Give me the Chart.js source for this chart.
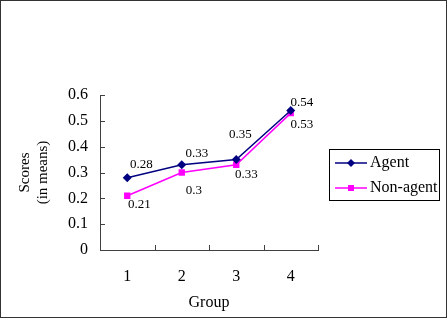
<!DOCTYPE html>
<html>
<head>
<meta charset="utf-8">
<script src="https://cdn.jsdelivr.net/npm/chart.js@4.4.0/dist/chart.umd.min.js"></script>
<style>
  html, body { margin: 0; padding: 0; background: #fff; }
  #wrap { width: 447px; height: 318px; }
</style>
</head>
<body>
<div id="wrap"><canvas id="chart" width="447" height="318"></canvas></div>
<script>
const groups = ["1", "2", "3", "4"];
const agentScores = [0.28, 0.33, 0.35, 0.54];
const nonAgentScores = [0.21, 0.3, 0.33, 0.53];
const yTicks = [0, 0.1, 0.2, 0.3, 0.4, 0.5, 0.6];

const serif = "'Liberation Serif', 'Times New Roman', serif";
const axisColor = "#404040";

// label offsets from the point, per dataset
const labelOffsets = [
  [[14, -13], [15, -11], [4, -25], [11, -8]],
  [[12, 9], [12, 18], [10, 10], [11, 11]]
];

const framePlugin = {
  id: "frame",
  beforeDraw(chart) {
    const ctx = chart.ctx;
    ctx.save();
    ctx.fillStyle = "#fff";
    ctx.fillRect(0, 0, chart.width, chart.height);
    ctx.restore();
  },
  afterDraw(chart) {
    const ctx = chart.ctx;
    ctx.save();
    ctx.strokeStyle = "#333";
    ctx.lineWidth = 1;
    ctx.strokeRect(0.5, 0.5, chart.width - 1, chart.height - 1);
    ctx.restore();
  }
};

const innerTicks = {
  id: "innerTicks",
  afterDraw(chart) {
    const ctx = chart.ctx;
    const x = chart.scales.x, y = chart.scales.y;
    ctx.save();
    ctx.strokeStyle = axisColor;
    ctx.lineWidth = 1;
    ctx.beginPath();
    yTicks.forEach(v => {
      const py = Math.round(y.getPixelForValue(v)) + 0.5;
      ctx.moveTo(x.left, py);
      ctx.lineTo(x.left + 5, py);
    });
    for (let i = 0; i < groups.length; i++) {
      const px = i < groups.length - 1
        ? (x.getPixelForValue(i) + x.getPixelForValue(i + 1)) / 2
        : x.right;
      const rx = Math.round(px) + 0.5;
      ctx.moveTo(rx, y.bottom);
      ctx.lineTo(rx, y.bottom - 5);
    }
    ctx.stroke();
    ctx.restore();
  }
};

const pointLabels = {
  id: "pointLabels",
  afterDatasetsDraw(chart) {
    const ctx = chart.ctx;
    ctx.save();
    ctx.font = "13px " + serif;
    ctx.fillStyle = "#000";
    ctx.textAlign = "center";
    ctx.textBaseline = "middle";
    chart.data.datasets.forEach((ds, di) => {
      chart.getDatasetMeta(di).data.forEach((pt, i) => {
        const off = labelOffsets[di][i];
        ctx.fillText(String(ds.data[i]), pt.x + off[0], pt.y + off[1]);
      });
    });
    ctx.restore();
  }
};

const boxLegend = {
  id: "boxLegend",
  afterDraw(chart) {
    const ctx = chart.ctx;
    const bx = 329, by = 149, bw = 110, bh = 51;
    ctx.save();
    ctx.strokeStyle = "#000";
    ctx.lineWidth = 1;
    ctx.strokeRect(bx + 0.5, by + 0.5, bw, bh);
    ctx.font = "16px " + serif;
    ctx.textBaseline = "middle";
    chart.data.datasets.forEach((ds, i) => {
      const ry = by + 14 + i * 25;
      ctx.strokeStyle = ds.borderColor;
      ctx.lineWidth = 1.5;
      ctx.beginPath();
      ctx.moveTo(bx + 6, ry);
      ctx.lineTo(bx + 38, ry);
      ctx.stroke();
      ctx.fillStyle = ds.borderColor;
      ctx.beginPath();
      if (ds.pointStyle === "rectRot") {
        ctx.moveTo(bx + 22, ry - 4);
        ctx.lineTo(bx + 26, ry);
        ctx.lineTo(bx + 22, ry + 4);
        ctx.lineTo(bx + 18, ry);
        ctx.closePath();
      } else {
        ctx.rect(bx + 19, ry - 3, 6, 6);
      }
      ctx.fill();
      ctx.fillStyle = "#000";
      ctx.fillText(ds.label, bx + 41, ry);
    });
    ctx.restore();
  }
};

new Chart(document.getElementById("chart"), {
  type: "line",
  data: {
    labels: groups,
    datasets: [
      {
        label: "Agent",
        data: agentScores,
        borderColor: "#000080",
        backgroundColor: "#000080",
        borderWidth: 1.5,
        pointStyle: "rectRot",
        pointRadius: 4.5,
        pointBorderWidth: 0,
        tension: 0
      },
      {
        label: "Non-agent",
        data: nonAgentScores,
        borderColor: "#ff00ff",
        backgroundColor: "#ff00ff",
        borderWidth: 1.5,
        pointStyle: "rect",
        pointRadius: 4.5,
        pointBorderWidth: 0,
        tension: 0
      }
    ]
  },
  options: {
    responsive: false,
    animation: false,
    layout: { padding: { left: 0, right: 129, top: 95, bottom: 3 } },
    plugins: {
      legend: { display: false },
      tooltip: { enabled: false }
    },
    scales: {
      x: {
        type: "category",
        offset: true,
        grid: { display: true, drawOnChartArea: false, drawTicks: false, offset: true },
        border: { display: true, color: axisColor, width: 1 },
        ticks: { color: "#000", font: { family: serif, size: 16 }, padding: 17, maxRotation: 0 },
        title: {
          display: true,
          text: "Group",
          color: "#000",
          font: { family: serif, size: 16 },
          padding: { top: 0, bottom: 3 }
        },
        afterFit(scale) { scale.height = 65; }
      },
      y: {
        min: 0,
        max: 0.6,
        grid: { display: true, drawOnChartArea: false, drawTicks: false },
        border: { display: true, color: axisColor, width: 1 },
        ticks: {
          stepSize: 0.1,
          color: "#000",
          font: { family: serif, size: 16 },
          padding: 12
        },
        title: {
          display: true,
          text: ["Scores", "(in means)"],
          color: "#000",
          font: { family: serif, size: 15, lineHeight: 1.2 },
          padding: { top: 16, bottom: 0 }
        },
        afterFit(scale) { scale.width = 100; }
      }
    }
  },
  plugins: [framePlugin, innerTicks, pointLabels, boxLegend]
});
</script>
</body>
</html>
